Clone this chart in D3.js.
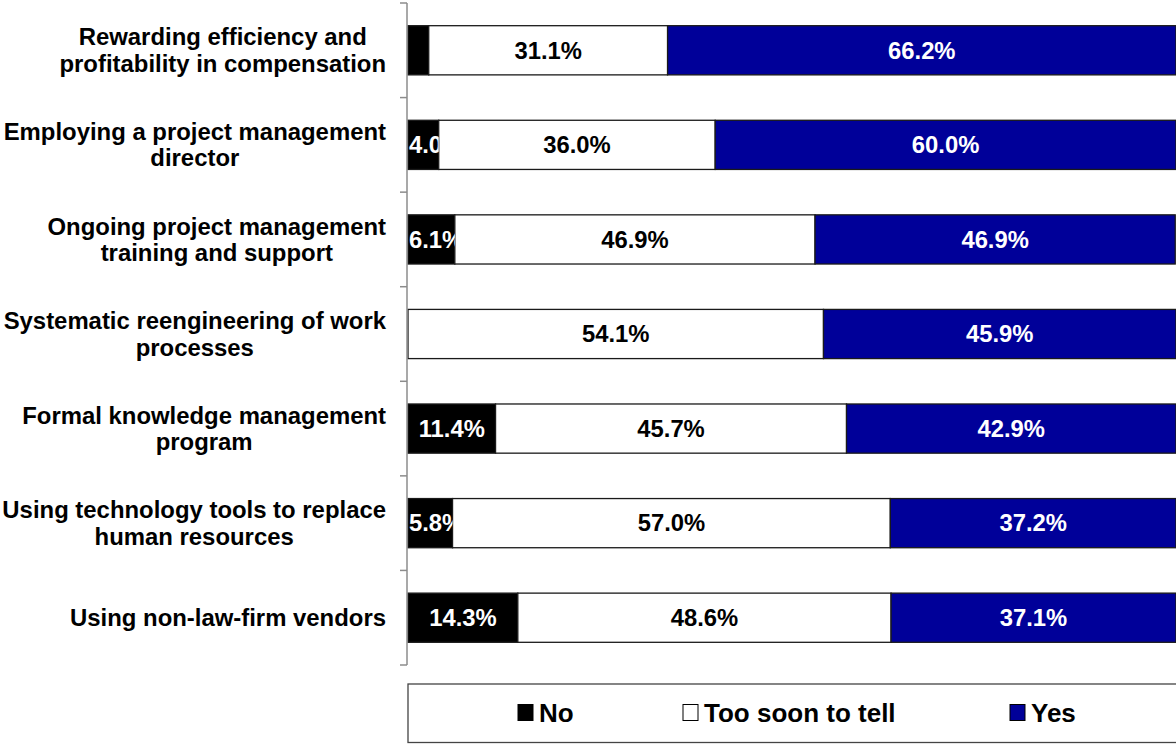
<!DOCTYPE html>
<html>
<head>
<meta charset="utf-8">
<script src="https://cdn.jsdelivr.net/npm/d3@7"></script>
<style>
  html, body { margin: 0; padding: 0; background: #fff; }
  svg { display: block; font-family: "Liberation Sans", Arial, sans-serif; font-weight: bold; }
</style>
</head>
<body>
<svg id="chart" width="1176" height="744"></svg>
<script>
// Survey: which practices have paid off
const categories = [
  "Rewarding efficiency and profitability in compensation",
  "Employing a project management director",
  "Ongoing project management training and support",
  "Systematic reengineering of work processes",
  "Formal knowledge management program",
  "Using technology tools to replace human resources",
  "Using non-law-firm vendors"
];
const seriesNames = ["No", "Too soon to tell", "Yes"];
const noValues      = [2.7, 4.0, 6.1, 0.0, 11.4, 5.8, 14.3];
const tooSoonValues = [31.1, 36.0, 46.9, 54.1, 45.7, 57.0, 48.6];
const yesValues     = [66.2, 60.0, 46.9, 45.9, 42.9, 37.2, 37.1];

const seriesValues = [noValues, tooSoonValues, yesValues];
const fills = ["#000000", "#ffffff", "#000099"];
const labelColors = ["#ffffff", "#000000", "#ffffff"];

const svg = d3.select("#chart");
const FONT = 23.9;
const VALUE_FONT = 23.8;

const x = d3.scaleLinear().domain([0, 100]).range([408, 1176]);
const y = d3.scaleBand().domain(categories).range([3, 665])
  .paddingInner(0.48).paddingOuter(0.24);

// stacked rows
const rows = categories.map((c, i) => ({ category: c, No: noValues[i], "Too soon to tell": tooSoonValues[i], Yes: yesValues[i] }));
const stacked = d3.stack().keys(seriesNames)(rows);

const defs = svg.append("defs");
const barsG = svg.append("g");
const labelsG = svg.append("g");

stacked.forEach((layer, si) => {
  layer.forEach((d, ri) => {
    const cat = categories[ri];
    const v = seriesValues[si][ri];
    if (v <= 0) return;
    const x0 = x(d[0]), x1 = x(d[1]);
    barsG.append("rect")
      .attr("x", x0).attr("y", y(cat))
      .attr("width", x1 - x0).attr("height", y.bandwidth())
      .attr("fill", fills[si])
      .attr("stroke", "#1a1a1a").attr("stroke-width", 1.3);
    if (v < 3) return; // too narrow for a label
    const id = `clip-${si}-${ri}`;
    defs.append("clipPath").attr("id", id).append("rect")
      .attr("x", x0).attr("y", y(cat)).attr("width", x1 - x0).attr("height", y.bandwidth());
    const label = labelsG.append("text")
      .attr("clip-path", `url(#${id})`)
      .attr("y", y(cat) + y.bandwidth() / 2 + 8.3)
      .attr("font-size", VALUE_FONT)
      .attr("fill", labelColors[si])
      .text(d3.format(".1f")(v) + "%");
    // centred on the segment, but kept inside the plot's left edge
    const w = label.node().getComputedTextLength();
    label.attr("x", Math.max(x.range()[0] + 1, (x0 + x1) / 2 - w / 2));
  });
});

// category axis: vertical rule with ticks at band boundaries
const axisG = svg.append("g");
const step = y.step();
const gap = (step - y.bandwidth()) / 2;
const tickYs = categories.map(c => y(c) - gap).concat([y(categories[categories.length - 1]) + y.bandwidth() + gap]);
axisG.append("line")
  .attr("x1", 407).attr("x2", 407)
  .attr("y1", tickYs[0]).attr("y2", tickYs[tickYs.length - 1])
  .attr("stroke", "#8c8c8c").attr("stroke-width", 1.5);
axisG.selectAll("line.tick").data(tickYs).join("line")
  .attr("class", "tick")
  .attr("x1", 400).attr("x2", 407)
  .attr("y1", d => d).attr("y2", d => d)
  .attr("stroke", "#8c8c8c").attr("stroke-width", 1.5);

// category labels, wrapped and centred as a block, right-aligned to the axis
const catG = svg.append("g");
const measure = svg.append("text").attr("font-size", FONT).attr("visibility", "hidden");
function textWidth(s) { measure.text(s); return measure.node().getComputedTextLength(); }
function wrap(s, maxW) {
  const words = s.split(" ");
  const lines = [];
  let cur = "";
  words.forEach(w => {
    const t = cur ? cur + " " + w : w;
    if (cur && textWidth(t) > maxW) { lines.push(cur); cur = w; } else cur = t;
  });
  if (cur) lines.push(cur);
  return lines;
}
const labelRight = 386;
categories.forEach(c => {
  const lines = wrap(c, 400);
  const blockW = d3.max(lines, textWidth);
  const cx = labelRight - blockW / 2;
  const cy = y(c) + y.bandwidth() / 2;
  const lh = 26.4;
  const first = cy + 8.4 - (lines.length - 1) * lh / 2;
  lines.forEach((ln, k) => {
    catG.append("text")
      .attr("x", cx).attr("y", first + k * lh)
      .attr("text-anchor", "middle")
      .attr("font-size", FONT)
      .attr("fill", "#000")
      .text(ln);
  });
});
measure.remove();

// legend
const legendG = svg.append("g");
legendG.append("rect")
  .attr("x", 408).attr("y", 684).attr("width", 800).attr("height", 58.5)
  .attr("fill", "#fff").attr("stroke", "#444").attr("stroke-width", 1.3);
const legendX = [518, 683, 1010];
seriesNames.forEach((name, i) => {
  legendG.append("rect")
    .attr("x", legendX[i]).attr("y", 704.5).attr("width", 15).attr("height", 16)
    .attr("fill", fills[i]).attr("stroke", "#000").attr("stroke-width", 1);
  legendG.append("text")
    .attr("x", legendX[i] + 21).attr("y", 722)
    .attr("font-size", 26)
    .attr("fill", "#000")
    .text(name);
});
</script>
</body>
</html>
